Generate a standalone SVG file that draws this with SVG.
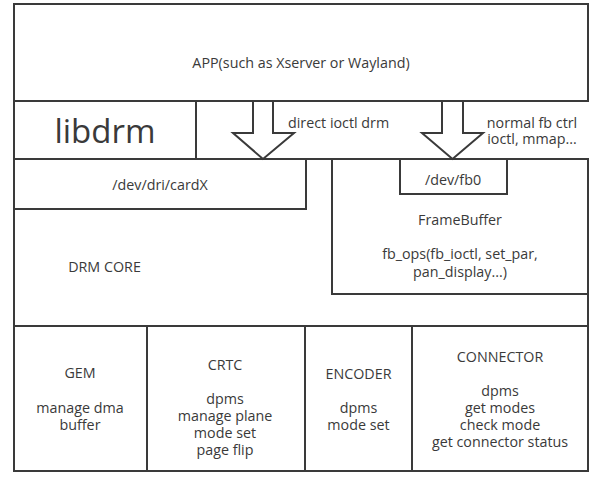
<svg xmlns="http://www.w3.org/2000/svg" width="605" height="491" viewBox="0 0 605 491">
<style>
.b{fill:none;stroke:#3a3a3a;stroke-width:2}
.a{fill:#fff;stroke:#3a3a3a;stroke-width:2;stroke-linejoin:miter}
text{font-family:"Open Sans","DejaVu Sans",sans-serif;font-size:14.3px;fill:#3a3a3a;text-anchor:middle}
.l{text-anchor:start}
</style>
<rect width="605" height="491" fill="#fff"/>
<g id="app"><rect class="b" x="14" y="4" width="574" height="97"/><text x="301" y="68">APP(such as Xserver or Wayland)</text></g>
<g id="libdrm"><rect class="b" x="14" y="101" width="182" height="58"/><text x="105" y="143" style="font-size:33px">libdrm</text></g>
<g id="drmcore"><rect class="b" x="14" y="159" width="574" height="167"/><text x="104.5" y="272">DRM CORE</text></g>
<g id="cardx"><rect class="b" x="14" y="159" width="292" height="50"/><text x="160" y="190">/dev/dri/cardX</text></g>
<g id="framebuffer"><rect class="b" x="332" y="159" width="256" height="135"/><text x="460" y="225">FrameBuffer</text><text x="460" y="259">fb_ops(fb_ioctl, set_par,</text><text x="460" y="276.5">pan_display...)</text></g>
<g id="fb0"><rect class="b" x="400" y="159" width="107" height="35"/><text x="453" y="185">/dev/fb0</text></g>
<g id="gem"><rect class="b" x="14" y="326" width="133" height="145"/><text x="80" y="378">GEM</text><text x="80" y="413">manage dma</text><text x="80" y="430">buffer</text></g>
<g id="crtc"><rect class="b" x="147" y="326" width="158" height="145"/><text x="225" y="370">CRTC</text><text x="225" y="404">dpms</text><text x="225" y="421">manage plane</text><text x="225" y="438">mode set</text><text x="225" y="455">page flip</text></g>
<g id="encoder"><rect class="b" x="305" y="326" width="107" height="145"/><text x="358.5" y="379">ENCODER</text><text x="358.5" y="413">dpms</text><text x="358.5" y="430">mode set</text></g>
<g id="connector"><rect class="b" x="412" y="326" width="176" height="145"/><text x="500" y="361.5">CONNECTOR</text><text x="500" y="396">dpms</text><text x="500" y="413">get modes</text><text x="500" y="430">check mode</text><text x="500" y="447">get connector status</text></g>
<g id="connectors">
<polygon class="a" points="253,101 253,133 233,133 263,159 294,133 273,133 273,101"/>
<line class="b" x1="250" y1="101" x2="276" y2="101"/>
<text class="l" x="288" y="128">direct ioctl drm</text>
<polygon class="a" points="442,101 442,133 422,133 452.5,159 483,133 463,133 463,101"/>
<line class="b" x1="439" y1="101" x2="466" y2="101"/>
<text x="532" y="127.5">normal fb ctrl</text>
<text x="532" y="144">ioctl, mmap...</text>
</g>
</svg>
